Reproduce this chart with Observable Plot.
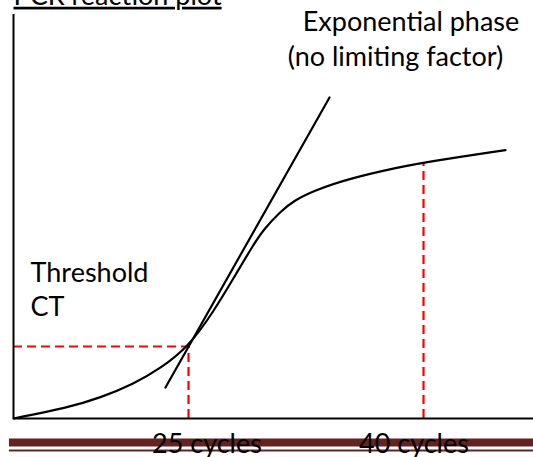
<!DOCTYPE html>
<html>
<head>
<meta charset="utf-8">
<script src="https://cdn.jsdelivr.net/npm/d3@7"></script>
<script src="https://cdn.jsdelivr.net/npm/@observablehq/plot@0.6"></script>
<style>
  html, body { margin: 0; padding: 0; background: #ffffff; }
  #chart { width: 533px; height: 457px; overflow: hidden; }
</style>
</head>
<body>
<div id="chart"></div>
<script>
// ---- data (x = PCR cycle, y = fluorescence signal, arbitrary units) ----
const curveCycles = [13.83, 17.28, 19.38, 21.49, 23.21, 25.0, 26.53, 28.13, 29.15, 29.79, 30.87, 31.70, 32.98, 35.15, 38.53, 40.0, 45.23];
const curveSignal = [0, 2.7, 5.18, 8.63, 12.5, 18.0, 26.25, 36.75, 43.5, 47.25, 51.75, 54.4, 56.9, 59.9, 62.9, 64.0, 67.1];

const tangentCycles = [23.53, 34.0];
const tangentSignal = [7.75, 80.25];

const thresholdCycle = 25;
const thresholdSignal = 18;
const plateauCycle = 40;
const plateauSignal = 64.0;

const originCycle = 13.83;
const axisEndCycle = 47.02;
const axisTopSignal = 101;

const tickLabels = ["25 cycles", "40 cycles"];
const tickLabelCycles = [26.18, 39.39];

const titleText = "PCR reaction plot";
const phaseLines = ["Exponential phase", "(no limiting factor)"];
const thresholdLines = ["Threshold", "CT"];

// ---- tables built from the arrays ----
const curve = curveCycles.map((c, i) => ({cycle: c, signal: curveSignal[i]}));
const tangent = tangentCycles.map((c, i) => ({cycle: c, signal: tangentSignal[i]}));
const ticks = tickLabels.map((t, i) => ({label: t, cycle: tickLabelCycles[i]}));

const FONT = "Lato";
const FS = 27;
const RED = "#ff0000";
const BAR = "#622423";
const DASH = "9,5";

const chart = Plot.plot({
  width: 533,
  height: 457,
  margin: 0,
  style: {background: "#ffffff", fontFamily: FONT},
  x: {domain: [13, 47.02], range: [0, 533], axis: null},
  y: {domain: [0, 100], range: [418, 18], axis: null},
  marks: [
    // decorative footer rule (dark red double line)
    Plot.ruleY([-6], {x1: 13.57, x2: axisEndCycle, stroke: BAR, strokeWidth: 8}),
    Plot.ruleY([-8], {x1: 13.57, x2: axisEndCycle, stroke: BAR, strokeWidth: 2}),
    // red dashed guides
    Plot.ruleY([thresholdSignal], {x1: originCycle, x2: thresholdCycle, stroke: RED, strokeWidth: 2.2, strokeDasharray: DASH}),
    Plot.ruleX([thresholdCycle], {y1: 0, y2: thresholdSignal, stroke: RED, strokeWidth: 2.2, strokeDasharray: DASH}),
    Plot.ruleX([plateauCycle], {y1: 0, y2: plateauSignal, stroke: RED, strokeWidth: 2.2, strokeDasharray: DASH}),
    // axes
    Plot.ruleX([originCycle], {y1: 0, y2: axisTopSignal, stroke: "#000", strokeWidth: 2}),
    Plot.ruleY([0], {x1: originCycle, x2: axisEndCycle, stroke: "#000", strokeWidth: 2}),
    // amplification curve and tangent
    Plot.line(curve, {x: "cycle", y: "signal", stroke: "#000", strokeWidth: 2.2, curve: "basis"}),
    Plot.line(tangent, {x: "cycle", y: "signal", stroke: "#000", strokeWidth: 2.2}),
    // labels
    Plot.text(ticks, {x: "cycle", y: -6.5, text: "label", fontSize: FS, fontFamily: FONT, fill: "#000", textAnchor: "middle"}),
    Plot.text([titleText], {x: originCycle, y: 105.6, text: d => d, fontSize: FS, fontFamily: FONT, fill: "#000", textAnchor: "start"}),
    Plot.text([phaseLines[0]], {x: 32.29, y: 99.1, text: d => d, fontSize: FS, fontFamily: FONT, fill: "#000", textAnchor: "start"}),
    Plot.text([phaseLines[1]], {x: 31.33, y: 90.3, text: d => d, fontSize: FS, fontFamily: FONT, fill: "#000", textAnchor: "start"}),
    Plot.text([thresholdLines[0]], {x: 14.92, y: 36.4, text: d => d, fontSize: FS, fontFamily: FONT, fill: "#000", textAnchor: "start"}),
    Plot.text([thresholdLines[1]], {x: 14.92, y: 27.8, text: d => d, fontSize: FS, fontFamily: FONT, fill: "#000", textAnchor: "start"})
  ]
});

d3.select(chart).selectAll("text")
  .filter(function () { return this.textContent === titleText; })
  .style("text-decoration", "underline");

document.getElementById("chart").appendChild(chart);
</script>
</body>
</html>
